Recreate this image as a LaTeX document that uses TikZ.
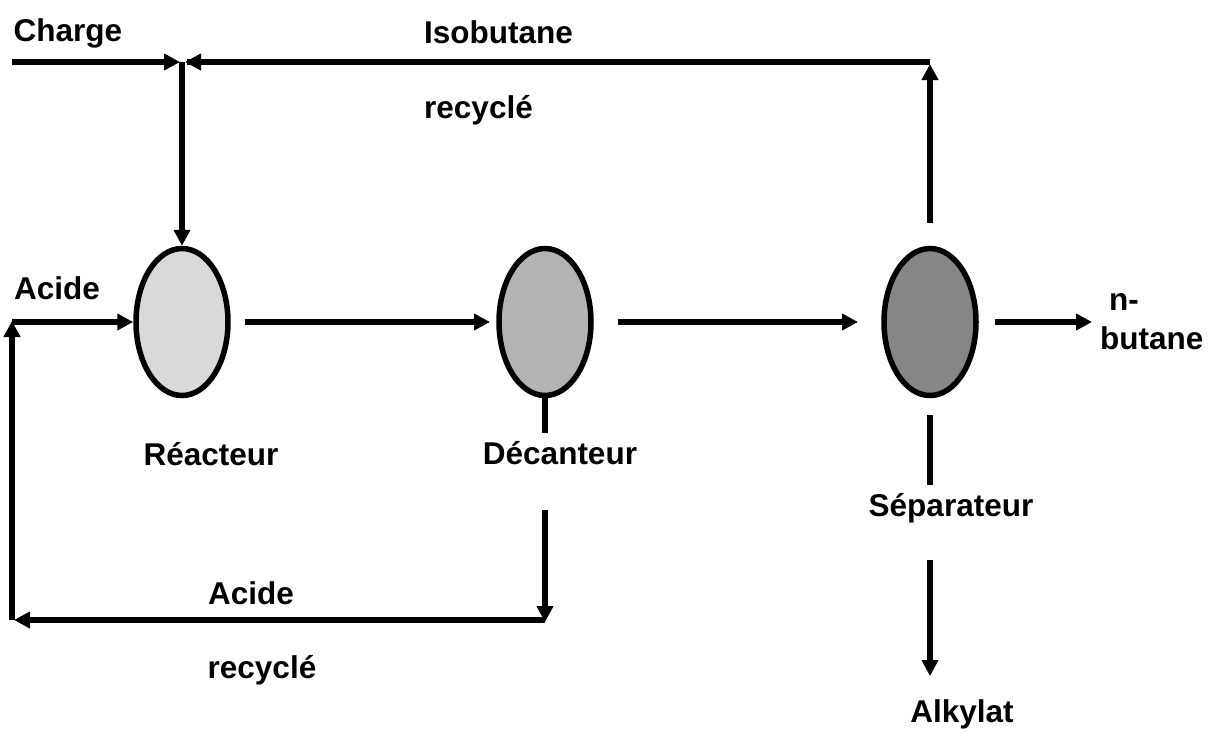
\documentclass[tikz,border=0pt]{standalone}
\usepackage{fontspec}
\setmainfont{Liberation Sans}
\usetikzlibrary{arrows.meta,shapes.geometric}
\begin{document}
\begin{tikzpicture}[x=1pt,y=-1pt,
  flow/.style={line width=5.5pt,-{Triangle[length=16pt,width=16pt]}},
  plain/.style={line width=5.5pt},
  vessel/.style={ellipse,draw,line width=5.5pt,inner sep=0pt,minimum width=92pt,minimum height=147pt},
  lbl/.style={font=\fontsize{31.5}{36}\selectfont\bfseries,inner sep=0pt}]
\useasboundingbox (0,0) rectangle (1210,731);
% vessels
\node[vessel,fill={rgb,255:red,217;green,217;blue,217}] (reac) at (182,322) {};
\node[vessel,fill={rgb,255:red,179;green,179;blue,179}] (dec) at (545,322) {};
\node[vessel,fill={rgb,255:red,134;green,134;blue,134}] (sep) at (930,322) {};
% labels
\node[lbl] (tcharge) at (68,33) {Charge};
\node[lbl,anchor=west] (tiso) at (424,32) {Isobutane};
\node[lbl,anchor=west] (trec1) at (424,110) {recyclé};
\node[lbl] (tacid1) at (57,288) {Acide};
\node[lbl] (treac) at (211,454) {Réacteur};
\node[lbl] (tdec) at (560,453) {Décanteur};
\node[lbl] (tsep) at (951,508) {Séparateur};
\node[lbl] (talk) at (962,714) {Alkylat};
\node[lbl] (tacid2) at (251,593) {Acide};
\node[lbl] (trec2) at (262,670) {recyclé};
\node[lbl,anchor=west] (tn) at (1109,302) {n-};
\node[lbl,anchor=west] (tbut) at (1100,338) {butane};
% coordinates
\coordinate (cstart) at (12,62);
\coordinate (jn) at (182,62);
\coordinate (jl) at (180,62);
\coordinate (jr) at (185,62);
\coordinate (corner) at (930,62);
\coordinate (sepup) at (930,223);
\coordinate (aci) at (12,322);
\coordinate (acb) at (12,620);
\coordinate (decb) at (545,620);
\coordinate (decd0) at (545,510);
\coordinate (decs) at (545,433);
\coordinate (r1) at (245,322);
\coordinate (r2) at (490,322);
\coordinate (d1) at (618,322);
\coordinate (d2) at (858,322);
\coordinate (s1) at (995,322);
\coordinate (s2) at (1092,322);
\coordinate (sd0) at (930,415);
\coordinate (sd1) at (930,485);
\coordinate (sd2) at (930,560);
\coordinate (sd3) at (930,676);
% connectors
\draw[flow] (cstart) -- (jl);
\draw[plain] (corner) -- ([xshift=2pt]jr);
\draw[flow] ([xshift=10pt]jr) -- (jr);
\draw[flow] (jn) -- (reac.north);
\draw[flow] (sepup) -- ([yshift=-2pt]corner);
\draw[flow] (aci) -- (reac.west);
\draw[flow] (acb) -- ([yshift=1pt]aci);
\draw[flow] (decb) -- ([xshift=2pt]acb);
\draw[flow] (decd0) -- ([yshift=-2pt]decb);
\draw[plain] (dec.south) -- (decs);
\draw[flow] (r1) -- (r2);
\draw[flow] (d1) -- (d2);
\draw[flow] (s1) -- (s2);
\draw[plain] (sd0) -- (sd1);
\draw[flow] (sd2) -- (sd3);
\end{tikzpicture}
\end{document}
